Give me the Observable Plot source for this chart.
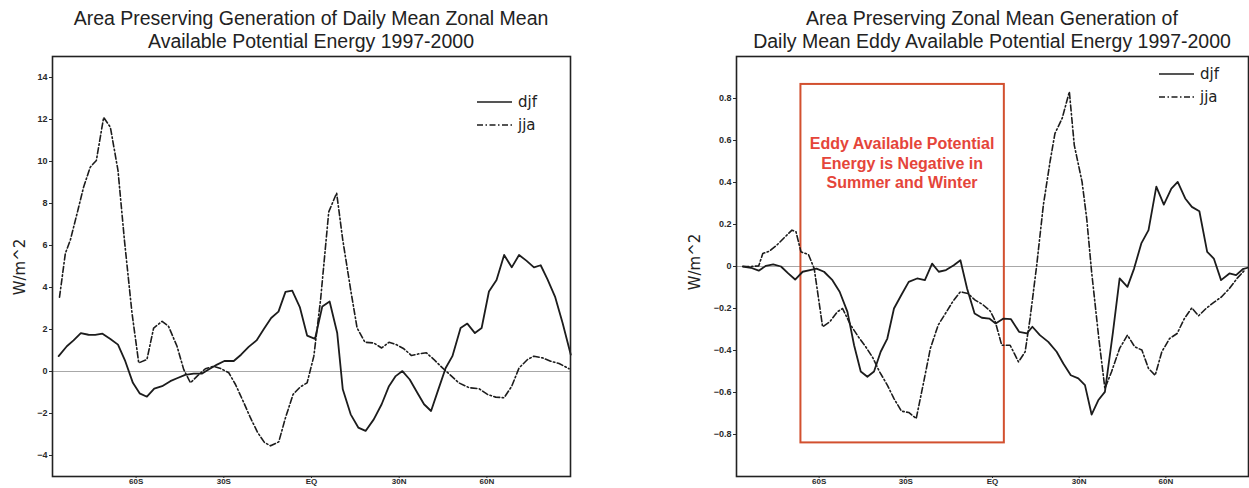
<!DOCTYPE html>
<html><head><meta charset="utf-8">
<script src="https://cdn.jsdelivr.net/npm/d3@7"></script>
<script src="https://cdn.jsdelivr.net/npm/@observablehq/plot@0.6"></script>
<style>
html,body{margin:0;padding:0;background:#fff}
body{width:1249px;height:488px;overflow:hidden;position:relative;font-family:"Liberation Sans",Arial,sans-serif}
.title{position:absolute;top:7px;text-align:center;font-size:19.5px;line-height:23px;color:#222;white-space:nowrap;transform:translateX(-50%)}
.chart{position:absolute;top:46px}
.ylab{position:absolute;font-family:"DejaVu Sans",sans-serif;font-size:15px;color:#222;white-space:nowrap;transform:translate(-50%,-50%) rotate(-90deg)}
.leg{position:absolute;font-family:"DejaVu Sans",sans-serif;font-size:15px;color:#222}
.leg div{height:23px;display:flex;align-items:center}
.leg svg{margin-right:6px}
</style></head>
<body>
<div id="root"></div>
<script>
// ---------- data (latitude in degrees, value) ----------
const xTicks = [-60, -30, 0, 30, 60];
const xTickLabels = ["60S", "30S", "EQ", "30N", "60N"];
const yTicksLeft = [-4, -2, 0, 2, 4, 6, 8, 10, 12, 14];
const yTicksRight = [-0.8, -0.6, -0.4, -0.2, 0, 0.2, 0.4, 0.6, 0.8];
const seriesNames = ["djf", "jja"];

const titleLeft = ["Area Preserving Generation of Daily Mean Zonal Mean", "Available Potential Energy 1997-2000"];
const titleRight = ["Area Preserving Zonal Mean Generation of", "Daily Mean Eddy Available Potential Energy 1997-2000"];
const yLabel = "W/m^2";

const leftDjf = [[-86.5,0.73],[-83.7,1.2],[-81.4,1.48],[-78.9,1.83],[-76.3,1.75],[-74,1.74],[-71.5,1.8],[-68.8,1.55],[-66.2,1.28],[-63.7,0.49],[-61.1,-0.54],[-58.8,-1.04],[-56.3,-1.2],[-53.8,-0.82],[-51.1,-0.7],[-48.3,-0.46],[-46,-0.32],[-43.2,-0.16],[-40.3,-0.1],[-37.4,-0.1],[-35.2,0.09],[-32.3,0.33],[-29.8,0.5],[-26.6,0.5],[-24.1,0.8],[-21.5,1.17],[-18.8,1.48],[-16.3,2.02],[-13.8,2.55],[-11.3,2.85],[-8.9,3.79],[-6.6,3.85],[-4,3.07],[-1.5,1.71],[1.2,1.55],[3.7,3.1],[6.2,3.33],[8.8,1.83],[10.7,-0.85],[13.4,-2.04],[16,-2.67],[18.5,-2.83],[21.3,-2.28],[24,-1.56],[26.5,-0.7],[28.8,-0.22],[31.1,0.02],[33.6,-0.38],[36.2,-1.01],[38.5,-1.56],[40.9,-1.88],[43.4,-0.85],[45.9,0.17],[48.2,0.73],[51,2.07],[53.3,2.28],[55.9,1.83],[58.2,2.07],[60.7,3.81],[63.3,4.36],[65.9,5.55],[68.5,4.96],[71,5.55],[73.5,5.28],[76.1,4.96],[78.4,5.06],[80.7,4.4],[83.3,3.57],[85.9,2.31],[88.7,0.8]];
const leftJja = [[-86.2,3.54],[-84.2,5.63],[-82.5,6.26],[-80.2,7.52],[-78,8.76],[-75.7,9.73],[-73.6,10.05],[-71.1,12.1],[-68.8,11.63],[-66.2,9.58],[-64,6.26],[-61.4,2.78],[-59.1,0.41],[-56.3,0.57],[-54,2.07],[-51.1,2.39],[-48.9,2.15],[-46,1.2],[-43.7,0.09],[-41.4,-0.54],[-39.1,-0.22],[-36.3,0.13],[-33.5,0.25],[-30.9,0.13],[-28.3,-0.06],[-26,-0.62],[-23.4,-1.41],[-20.9,-2.2],[-18.4,-2.91],[-16.1,-3.38],[-14,-3.54],[-11.2,-3.35],[-8.9,-2.2],[-6.3,-1.09],[-3.8,-0.73],[-1.5,-0.54],[0.8,0.73],[3.1,3.41],[5.9,7.6],[8.6,8.5],[10.7,6.26],[13.4,3.89],[15.6,2.07],[18.3,1.39],[21.3,1.36],[24,1.12],[26.5,1.39],[29,1.28],[31.6,1.08],[34.2,0.76],[37,0.85],[39.3,0.89],[41.9,0.57],[44.8,0.17],[47.3,-0.14],[50.4,-0.54],[53.9,-0.77],[57.3,-0.82],[60.2,-1.09],[63,-1.22],[65.9,-1.25],[68.5,-0.7],[71,0.17],[73.9,0.57],[76.1,0.73],[79,0.65],[81.8,0.49],[84.7,0.38],[88.1,0.13]];

const rightDjf = [[-86.4,0],[-83.6,-0.006],[-80.9,-0.02],[-78.4,0.003],[-75.9,0.01],[-73.2,0],[-70.7,-0.033],[-68.3,-0.062],[-65.7,-0.025],[-63.2,-0.017],[-60.9,-0.01],[-58.3,-0.025],[-55.4,-0.065],[-52.9,-0.12],[-50.2,-0.216],[-47.9,-0.375],[-45.6,-0.5],[-43.3,-0.525],[-41,-0.5],[-38.7,-0.406],[-36.4,-0.343],[-34.1,-0.2],[-31.6,-0.137],[-29,-0.073],[-26.1,-0.057],[-23.4,-0.065],[-20.9,0.014],[-18.6,-0.025],[-16.1,-0.017],[-13.4,0.006],[-11.1,0.03],[-8.8,-0.105],[-6.2,-0.224],[-3.7,-0.244],[-1.1,-0.248],[1.1,-0.271],[3.8,-0.248],[6.4,-0.251],[9.2,-0.311],[11.9,-0.319],[13.8,-0.287],[16.4,-0.327],[19.3,-0.359],[22.2,-0.406],[24.5,-0.462],[27.1,-0.518],[29.7,-0.533],[32,-0.565],[34.3,-0.705],[36.6,-0.637],[38.9,-0.597],[41.7,-0.311],[44,-0.057],[46.7,-0.097],[49,-0.01],[51.5,0.11],[54,0.173],[56.7,0.38],[59.3,0.295],[61.9,0.371],[64.1,0.403],[66.7,0.324],[69,0.284],[71.6,0.263],[74.3,0.07],[76.6,0.038],[79.1,-0.065],[82,-0.033],[84.3,-0.041],[86.6,-0.013],[88.3,-0.006]];
const rightJja = [[-86.4,0],[-83.6,0],[-80.9,0.003],[-79.5,0.062],[-77.2,0.073],[-74.7,0.101],[-72.1,0.137],[-69.4,0.173],[-68,0.165],[-66.3,0.07],[-63.7,0.057],[-61.7,-0.01],[-58.8,-0.287],[-56.3,-0.263],[-53.7,-0.216],[-51.9,-0.2],[-49.1,-0.279],[-46.4,-0.335],[-43.9,-0.382],[-41.4,-0.435],[-39.1,-0.501],[-36.4,-0.565],[-34.1,-0.629],[-31.5,-0.689],[-29,-0.695],[-26.4,-0.724],[-23.8,-0.549],[-21.5,-0.39],[-18.8,-0.279],[-16.3,-0.224],[-13.8,-0.168],[-11.1,-0.12],[-8.5,-0.129],[-6,-0.16],[-3.4,-0.181],[-0.8,-0.212],[0.8,-0.255],[3.2,-0.375],[6.1,-0.375],[9,-0.454],[11.3,-0.406],[13,-0.248],[15.3,0.006],[17.6,0.292],[19.9,0.498],[21.6,0.633],[24.1,0.705],[26.6,0.832],[28.3,0.578],[31,0.403],[32.6,0.229],[34.3,-0.025],[36.8,-0.343],[38.9,-0.581],[41.2,-0.501],[44,-0.39],[46.7,-0.327],[49.2,-0.382],[51.7,-0.398],[54,-0.486],[56.3,-0.518],[58.6,-0.406],[61.3,-0.343],[63.9,-0.319],[66.4,-0.248],[69,-0.197],[71.3,-0.235],[73.9,-0.2],[76.6,-0.171],[79.3,-0.144],[82,-0.105],[84.8,-0.054],[87.6,-0.013]];

// annotation (right panel)
const noteBox = [{x1: -66.3, x2: 4.1, y1: -0.84, y2: 0.867}];
const noteText = [{x: -31.3, y: 0.495, text: "Eddy Available Potential\nEnergy is Negative in\nSummer and Winter"}];

// ---------- drawing ----------
const ink = "#1c1c1c";
const dash = "6,2.5,1.5,2.5";
const xFmt = d => xTickLabels[xTicks.indexOf(d)];
const yFmt = d => d === 0 ? "0" : String(d).replace("-", "\u2212");

function panel({left, width, marginLeft, marginRight, yDomain, yTicks, djf, jja, extra = []}) {
  const chart = Plot.plot({
    width, height: 458,
    marginLeft, marginRight, marginTop: 10, marginBottom: 28,
    style: {fontFamily: "'Liberation Sans', Arial, sans-serif", fontSize: "9px", fontWeight: "bold", color: "#2a2a2a", background: "transparent", overflow: "visible"},
    x: {domain: [-88.6, 88.6]},
    y: {domain: yDomain},
    marks: [
      Plot.ruleY([0], {stroke: "#a8a8a8", strokeWidth: 1}),
      ...extra,
      Plot.line(djf, {x: d => d[0], y: d => d[1], stroke: ink, strokeWidth: 1.8}),
      Plot.line(jja, {x: d => d[0], y: d => d[1], stroke: ink, strokeWidth: 1.6, strokeDasharray: dash}),
      Plot.axisX({ticks: xTicks, tickFormat: xFmt, tickSize: 2, tickPadding: 0, fontSize: 8, label: null}),
      Plot.axisY({ticks: yTicks, tickFormat: yFmt, tickSize: 3, tickPadding: 2, label: null}),
      Plot.frame({stroke: "#222", strokeWidth: 1.6})
    ]
  });
  chart.classList.add("chart");
  chart.style.left = left + "px";
  document.getElementById("root").appendChild(chart);
}

panel({left: 0, width: 600, marginLeft: 52, marginRight: 30, yDomain: [-5, 15], yTicks: yTicksLeft, djf: leftDjf, jja: leftJja});
panel({left: 680, width: 569, marginLeft: 56, marginRight: 1, yDomain: [-1, 1], yTicks: yTicksRight, djf: rightDjf, jja: rightJja,
  extra: [
    Plot.rect(noteBox, {x1: "x1", x2: "x2", y1: "y1", y2: "y2", fill: "none", stroke: "#d2502f", strokeWidth: 2}),
    Plot.text(noteText, {x: "x", y: "y", text: "text", fill: "#e5453a", fontSize: 16, fontWeight: "bold", lineHeight: 1.22})
  ]});

function addTitle(lines, cx) {
  const d = document.createElement("div");
  d.className = "title";
  d.style.left = cx + "px";
  d.innerHTML = lines.join("<br>");
  document.body.appendChild(d);
}
addTitle(titleLeft, 311);
addTitle(titleRight, 992);

function addYLabel(cx, cy) {
  const d = document.createElement("div");
  d.className = "ylab";
  d.style.left = cx + "px"; d.style.top = cy + "px";
  d.textContent = yLabel;
  document.body.appendChild(d);
}
addYLabel(20, 267);
addYLabel(695, 262);

function addLegend(x, y) {
  const d = document.createElement("div");
  d.className = "leg";
  d.style.left = x + "px"; d.style.top = (y - 11.5) + "px";
  seriesNames.forEach((name, i) => {
    const row = document.createElement("div");
    row.innerHTML = `<svg width="35" height="6"><line x1="0" x2="35" y1="3" y2="3" stroke="${ink}" stroke-width="1.5" ${i ? `stroke-dasharray="${dash}"` : ""}/></svg><span>${name}</span>`;
    d.appendChild(row);
  });
  document.body.appendChild(d);
}
addLegend(477, 102);
addLegend(1159, 74);
</script>
</body></html>
